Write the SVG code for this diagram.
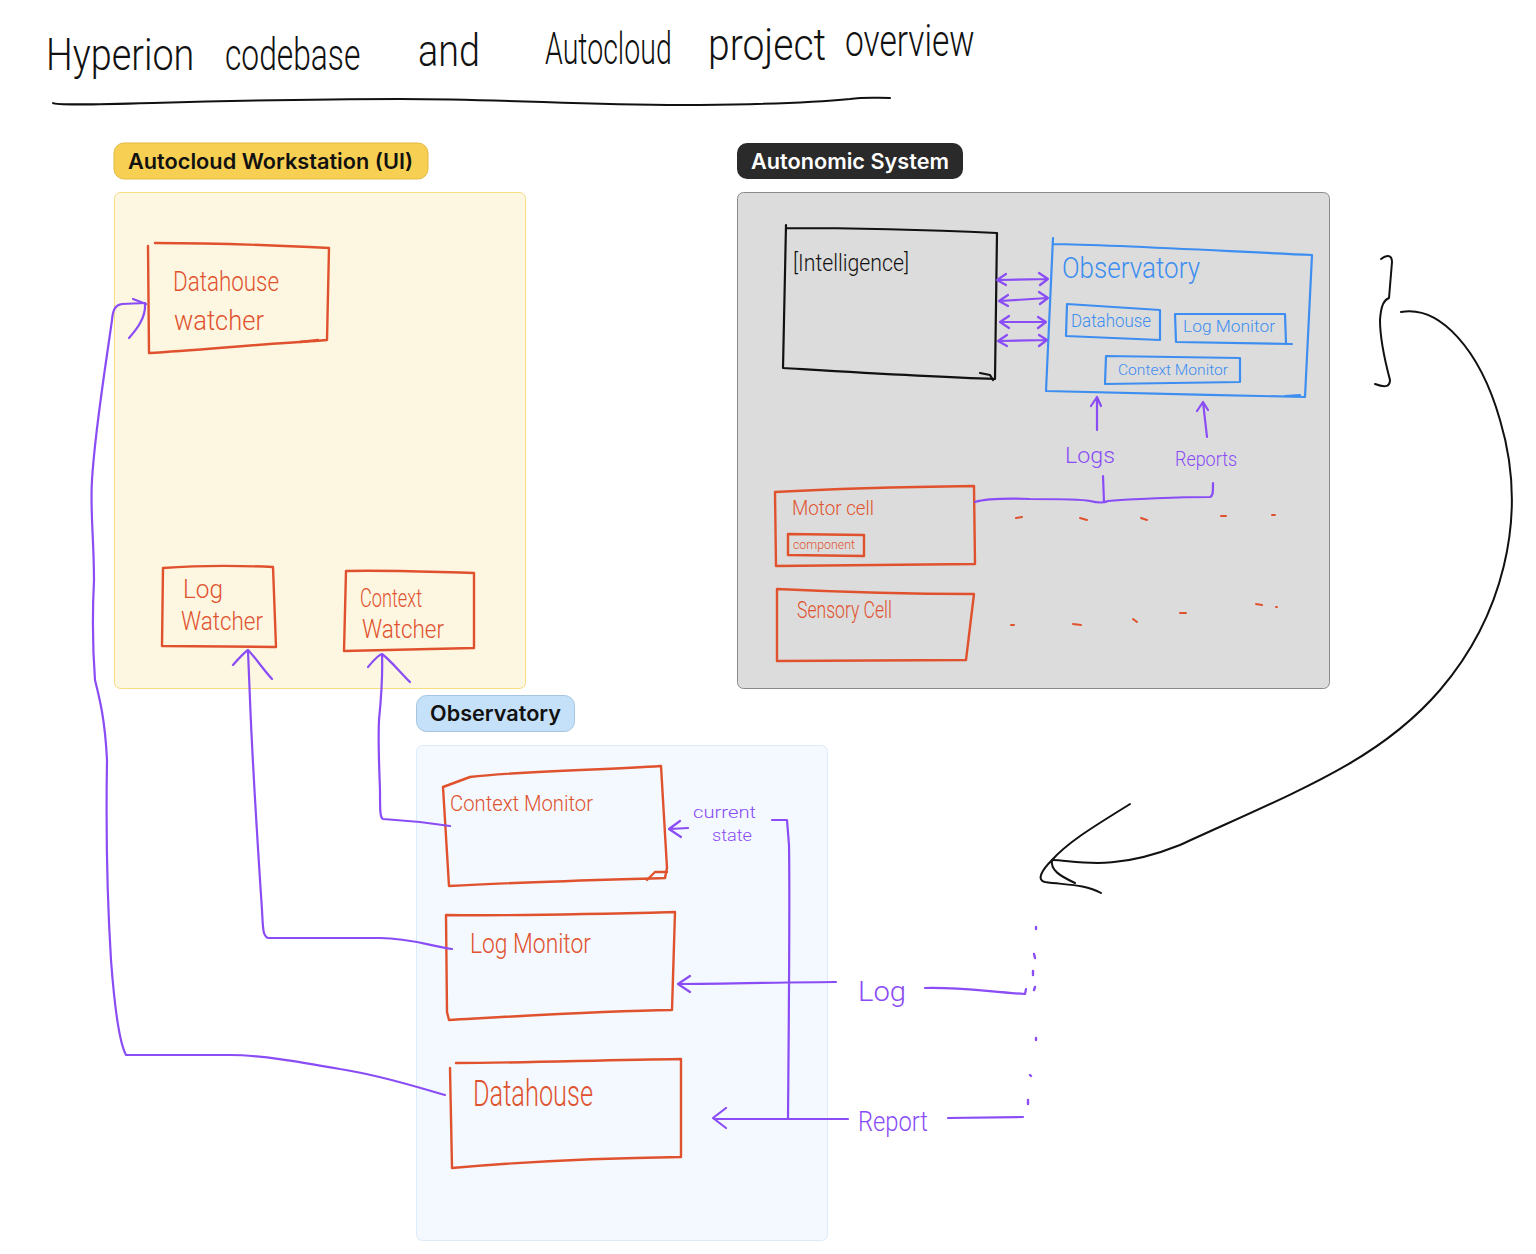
<svg xmlns="http://www.w3.org/2000/svg" width="1536" height="1254" viewBox="0 0 1536 1254">
<defs>
<style>
.hand{font-family:"Roboto","Liberation Sans",sans-serif;font-weight:300}
.red{fill:#e0522e}
.blue{fill:#3d8ef0}
.purp{fill:#8a4cf5}
.blk{fill:#111}
.rbox{fill:none;stroke:#e0522e;stroke-width:2.4;stroke-linejoin:round;stroke-linecap:round}
.bbox{fill:none;stroke:#3d8ef0;stroke-width:2.2;stroke-linejoin:round;stroke-linecap:round}
.kbox{fill:none;stroke:#111;stroke-width:2.2;stroke-linejoin:round;stroke-linecap:round}
.pl{fill:none;stroke:#8a4cf5;stroke-width:2.2;stroke-linecap:round;stroke-linejoin:round}
.kl{fill:none;stroke:#111;stroke-width:2;stroke-linecap:round;stroke-linejoin:round}
.tag{font-family:"Inter","Liberation Sans",sans-serif;font-weight:600;font-size:21px}
.dash{fill:none;stroke:#e0522e;stroke-width:2;stroke-linecap:round}
.dot{fill:none;stroke:#8a4cf5;stroke-width:2.4;stroke-linecap:round}
</style>
</defs>
<rect width="1536" height="1254" fill="#ffffff"/>

<!-- Title -->
<g id="title">
<text class="hand blk" font-size="44" transform="translate(46,70) scale(0.72,1)" textLength="206" lengthAdjust="spacingAndGlyphs">Hyperion</text>
<text class="hand blk" font-size="44" transform="translate(225,70) scale(0.72,1)" textLength="188" lengthAdjust="spacingAndGlyphs">codebase</text>
<text class="hand blk" font-size="44" transform="translate(418,66) scale(0.72,1)" textLength="86" lengthAdjust="spacingAndGlyphs">and</text>
<text class="hand blk" font-size="44" transform="translate(545,64) scale(0.64,1)" textLength="198" lengthAdjust="spacingAndGlyphs">Autocloud</text>
<text class="hand blk" font-size="44" transform="translate(708,60) scale(0.72,1)" textLength="164" lengthAdjust="spacingAndGlyphs">project</text>
<text class="hand blk" font-size="44" transform="translate(845,56) scale(0.72,1)" textLength="180" lengthAdjust="spacingAndGlyphs">overview</text>
<path class="kl" d="M53,103 C60,108 200,99 400,99 C520,99 580,106 700,105 C790,104 830,101 850,99 C865,97 875,98 890,98"/>
</g>

<!-- Panels -->
<g id="autocloud-workstation">
<rect x="114" y="143" width="314" height="36" rx="10" fill="#f7cf52" stroke="#e3bb45" stroke-width="1"/>
<text class="tag" x="128" y="169" fill="#111" textLength="285" lengthAdjust="spacingAndGlyphs">Autocloud Workstation (UI)</text>
<rect x="114.5" y="192.5" width="411" height="496" rx="6" fill="#fdf6e1" stroke="#f8dc80" stroke-width="1"/>
</g>
<g id="autonomic-system">
<rect x="737" y="143" width="226" height="36" rx="10" fill="#2a2a2a"/>
<text class="tag" x="751" y="169" fill="#ffffff" textLength="198" lengthAdjust="spacingAndGlyphs">Autonomic System</text>
<rect x="737.5" y="192.5" width="592" height="496" rx="6" fill="#dcdcdc" stroke="#8a8a8a" stroke-width="1"/>
</g>
<g id="observatory-panel">
<rect x="416.5" y="695.5" width="158" height="36" rx="10" fill="#c5e1f9" stroke="#a5c4e0" stroke-width="1"/>
<text class="tag" x="430" y="721" fill="#111" textLength="131" lengthAdjust="spacingAndGlyphs">Observatory</text>
<rect x="416.5" y="745.5" width="411" height="495" rx="6" fill="#f3f9fe" stroke="#dcebf8" stroke-width="1"/>
</g>

<!-- Workstation nodes -->
<g id="datahouse-watcher">
<path class="rbox" d="M148,246 L149,353 C200,350 260,344 315,341 L327,340 L329,248 C270,245 210,243 155,243"/>
<path class="rbox" d="M300,342 L318,340"/>
<text class="hand red" font-size="28" x="173" y="291" textLength="106" lengthAdjust="spacingAndGlyphs">Datahouse</text>
<text class="hand red" font-size="28" x="174" y="330" textLength="90" lengthAdjust="spacingAndGlyphs">watcher</text>
</g>
<g id="log-watcher">
<path class="rbox" d="M163,568 L162,646 L276,647 L273,567 C230,565 190,566 163,568 Z"/>
<text class="hand red" font-size="26" x="183" y="598" textLength="40" lengthAdjust="spacingAndGlyphs">Log</text>
<text class="hand red" font-size="26" x="181" y="630" textLength="82" lengthAdjust="spacingAndGlyphs">Watcher</text>
</g>
<g id="context-watcher">
<path class="rbox" d="M346,571 L344,651 L474,648 L474,573 C430,572 390,570 346,571 Z"/>
<text class="hand red" font-size="26" x="360" y="607" textLength="62" lengthAdjust="spacingAndGlyphs">Context</text>
<text class="hand red" font-size="26" x="362" y="638" textLength="82" lengthAdjust="spacingAndGlyphs">Watcher</text>
</g>

<!-- Observatory nodes -->
<g id="context-monitor">
<path class="rbox" d="M443,787 L449,886 C520,882 600,880 665,878 L667,868 L661,766 C600,770 520,771 470,777 Z"/>
<path class="rbox" d="M647,880 L655,872 L667,872"/>
<text class="hand red" font-size="22" x="450" y="811" textLength="143" lengthAdjust="spacingAndGlyphs">Context Monitor</text>
</g>
<g id="log-monitor">
<path class="rbox" d="M446,915 L447,1012 L449,1020 C520,1016 600,1011 672,1010 L675,912 C600,914 520,916 446,915 Z"/>
<text class="hand red" font-size="28" x="470" y="953" textLength="121" lengthAdjust="spacingAndGlyphs">Log Monitor</text>
</g>
<g id="datahouse">
<path class="rbox" d="M450,1068 L452,1168 C530,1161 610,1158 681,1157 L681,1059 C600,1060 520,1063 456,1063"/>
<text class="hand red" font-size="36" x="473" y="1106" textLength="120" lengthAdjust="spacingAndGlyphs">Datahouse</text>
</g>

<!-- Autonomic nodes -->
<g id="intelligence">
<path class="kbox" d="M786,225 L783,368 C850,372 930,377 995,379 L997,233 C930,230 850,228 787,228"/>
<path class="kbox" d="M980,373 L990,375 L993,380"/>
<text class="hand blk" font-size="24" x="793" y="271" textLength="116" lengthAdjust="spacingAndGlyphs">[Intelligence]</text>
</g>
<g id="observatory-inner">
<path class="bbox" d="M1053,238 L1046,391 C1120,393 1220,395 1305,397 L1312,255 C1240,252 1120,245 1053,244"/>
<path class="bbox" d="M1285,396 L1300,395"/>
<text class="hand blue" font-size="30" x="1062" y="278" textLength="138" lengthAdjust="spacingAndGlyphs">Observatory</text>
<path class="bbox" d="M1067,304 L1066,336 L1160,340 L1160,310 Z" stroke-width="2"/>
<text class="hand blue" font-size="18" x="1071" y="327" textLength="80" lengthAdjust="spacingAndGlyphs">Datahouse</text>
<path class="bbox" d="M1175,314 L1176,342 L1292,344 M1175,314 L1285,314 L1286,343" stroke-width="2"/>
<text class="hand blue" font-size="16" x="1183" y="332" textLength="92" lengthAdjust="spacingAndGlyphs">Log Monitor</text>
<path class="bbox" d="M1106,356 L1105,384 L1240,382 L1240,358 Z" stroke-width="2"/>
<text class="hand blue" font-size="15" x="1118" y="375" textLength="110" lengthAdjust="spacingAndGlyphs">Context Monitor</text>
</g>
<g id="motor-cell">
<path class="rbox" d="M775,492 L776,566 L975,564 L974,486 C900,487 830,489 775,492 Z"/>
<text class="hand red" font-size="21" x="792" y="515" textLength="82" lengthAdjust="spacingAndGlyphs">Motor cell</text>
<path class="rbox" d="M788,534 L788,555 L864,556 L864,535 Z" stroke-width="1.8"/>
<text class="hand red" font-size="13" x="793" y="549" textLength="62" lengthAdjust="spacingAndGlyphs">component</text>
</g>
<g id="sensory-cell">
<path class="rbox" d="M777,589 L777,661 L966,660 L974,594 C900,594 840,592 777,589 Z"/>
<text class="hand red" font-size="23" x="797" y="618" textLength="95" lengthAdjust="spacingAndGlyphs">Sensory Cell</text>
</g>
<g id="cell-dashes">
<path class="dash" d="M1016,518 L1022,517 M1080,518 L1087,520 M1141,518 L1147,520 M1221,516 L1226,516 M1272,515 L1275,515"/>
<path class="dash" d="M1011,625 L1014,625 M1073,624 L1081,625 M1133,619 L1137,622 M1180,613 L1186,613 M1256,604 L1262,605 M1276,607 L1277,607"/>
</g>

<!-- Connectors -->
<g id="connectors">
<path class="pl" d="M998,280 L1048,279 M1006,274 L997,280 L1006,285 M1039,273 L1048,279 L1040,285"/>
<path class="pl" d="M1000,301 L1048,298 M1008,295 L999,301 L1008,306 M1039,292 L1048,298 L1040,304"/>
<path class="pl" d="M1001,322 L1046,322 M1009,316 L1000,322 L1009,328 M1038,317 L1046,322 L1038,328"/>
<path class="pl" d="M999,341 L1047,340 M1007,335 L998,341 L1007,346 M1039,335 L1047,340 L1039,346"/>
<path class="pl" d="M1097,430 L1097,397 M1091,406 L1097,397 L1101,406"/>
<path class="pl" d="M1207,437 L1203,402 M1197,411 L1203,402 L1208,410"/>
<text class="hand purp" font-size="22" x="1065" y="463" textLength="50" lengthAdjust="spacingAndGlyphs">Logs</text>
<text class="hand purp" font-size="20" x="1175" y="466" textLength="62" lengthAdjust="spacingAndGlyphs">Reports</text>
<path class="pl" d="M975,502 C985,499 1000,498 1030,499 C1060,499 1080,499 1090,501 C1098,503 1104,503 1108,501 C1130,499 1180,497 1210,497 C1213,496 1213,492 1213,483 M1103,476 L1104,502"/>
<path class="pl" d="M450,826 C430,823 400,820 383,819 C380,818 380,810 380,790 C379,765 378,740 379,720 C381,700 383,680 382,655"/>
<path class="pl" d="M368,667 C374,660 378,655 382,654 C390,660 400,672 410,682"/>
<path class="pl" d="M452,949 C430,946 410,938 380,938 L268,938 C263,936 263,930 262,910 C258,850 252,750 250,700 L248,651"/>
<path class="pl" d="M233,665 C240,657 245,652 248,650 C255,657 262,668 272,679"/>
<path class="pl" d="M445,1095 C420,1088 380,1075 340,1069 C300,1062 260,1055 230,1055 L126,1055 C118,1040 114,1000 111,960 C106,880 106,820 107,760 C105,720 100,700 95,680 C92,640 93,600 94,580 C94,540 90,510 92,480 C95,430 105,370 112,320 C113,308 116,305 122,304 L145,303"/>
<path class="pl" d="M129,338 C136,330 146,318 145,304 M133,299 L146,304"/>
<text class="hand purp" font-size="17" x="693" y="818" textLength="63" lengthAdjust="spacingAndGlyphs">current</text>
<text class="hand purp" font-size="17" x="712" y="841" textLength="40" lengthAdjust="spacingAndGlyphs">state</text>
<path class="pl" d="M688,828 L670,829 M680,821 L669,829 L681,837"/>
<path class="pl" d="M772,820 L787,820 L789,845 C790,900 789,1000 788,1119"/>
<path class="pl" d="M836,982 C800,982 720,984 679,984 M690,976 L678,984 L690,992"/>
<text class="hand purp" font-size="28" x="858" y="1001" textLength="48" lengthAdjust="spacingAndGlyphs">Log</text>
<path class="pl" d="M925,988 C960,987 990,992 1025,994 L1026,989"/>
<path class="pl" d="M848,1119 L788,1119 L714,1119 M726,1108 L713,1118 L726,1128"/>
<text class="hand purp" font-size="28" x="858" y="1131" textLength="70" lengthAdjust="spacingAndGlyphs">Report</text>
<path class="pl" d="M948,1118 L1023,1117"/>
<path class="dot" d="M1036,927 L1036,929 M1034,954 L1035,958 M1033,971 L1033,975 M1035,987 L1034,990 M1036,1038 L1036,1040 M1030,1075 L1031,1076 M1028,1100 L1028,1104"/>
<path class="kl" d="M1381,259 C1386,255 1392,254 1392,262 L1389,298 C1384,300 1381,305 1380,320 C1380,340 1386,365 1390,380 C1390,388 1383,387 1375,384"/>
<path class="kl" d="M1401,312 C1440,305 1480,350 1500,420 C1530,520 1500,620 1440,690 C1380,760 1300,790 1180,845 C1110,873 1075,860 1052,860"/>
<path class="kl" d="M1130,804 C1100,823 1070,840 1052,860 C1042,870 1036,880 1045,882 C1065,885 1085,884 1101,893 M1052,860 C1050,870 1060,876 1075,883"/>
</g>
</svg>
